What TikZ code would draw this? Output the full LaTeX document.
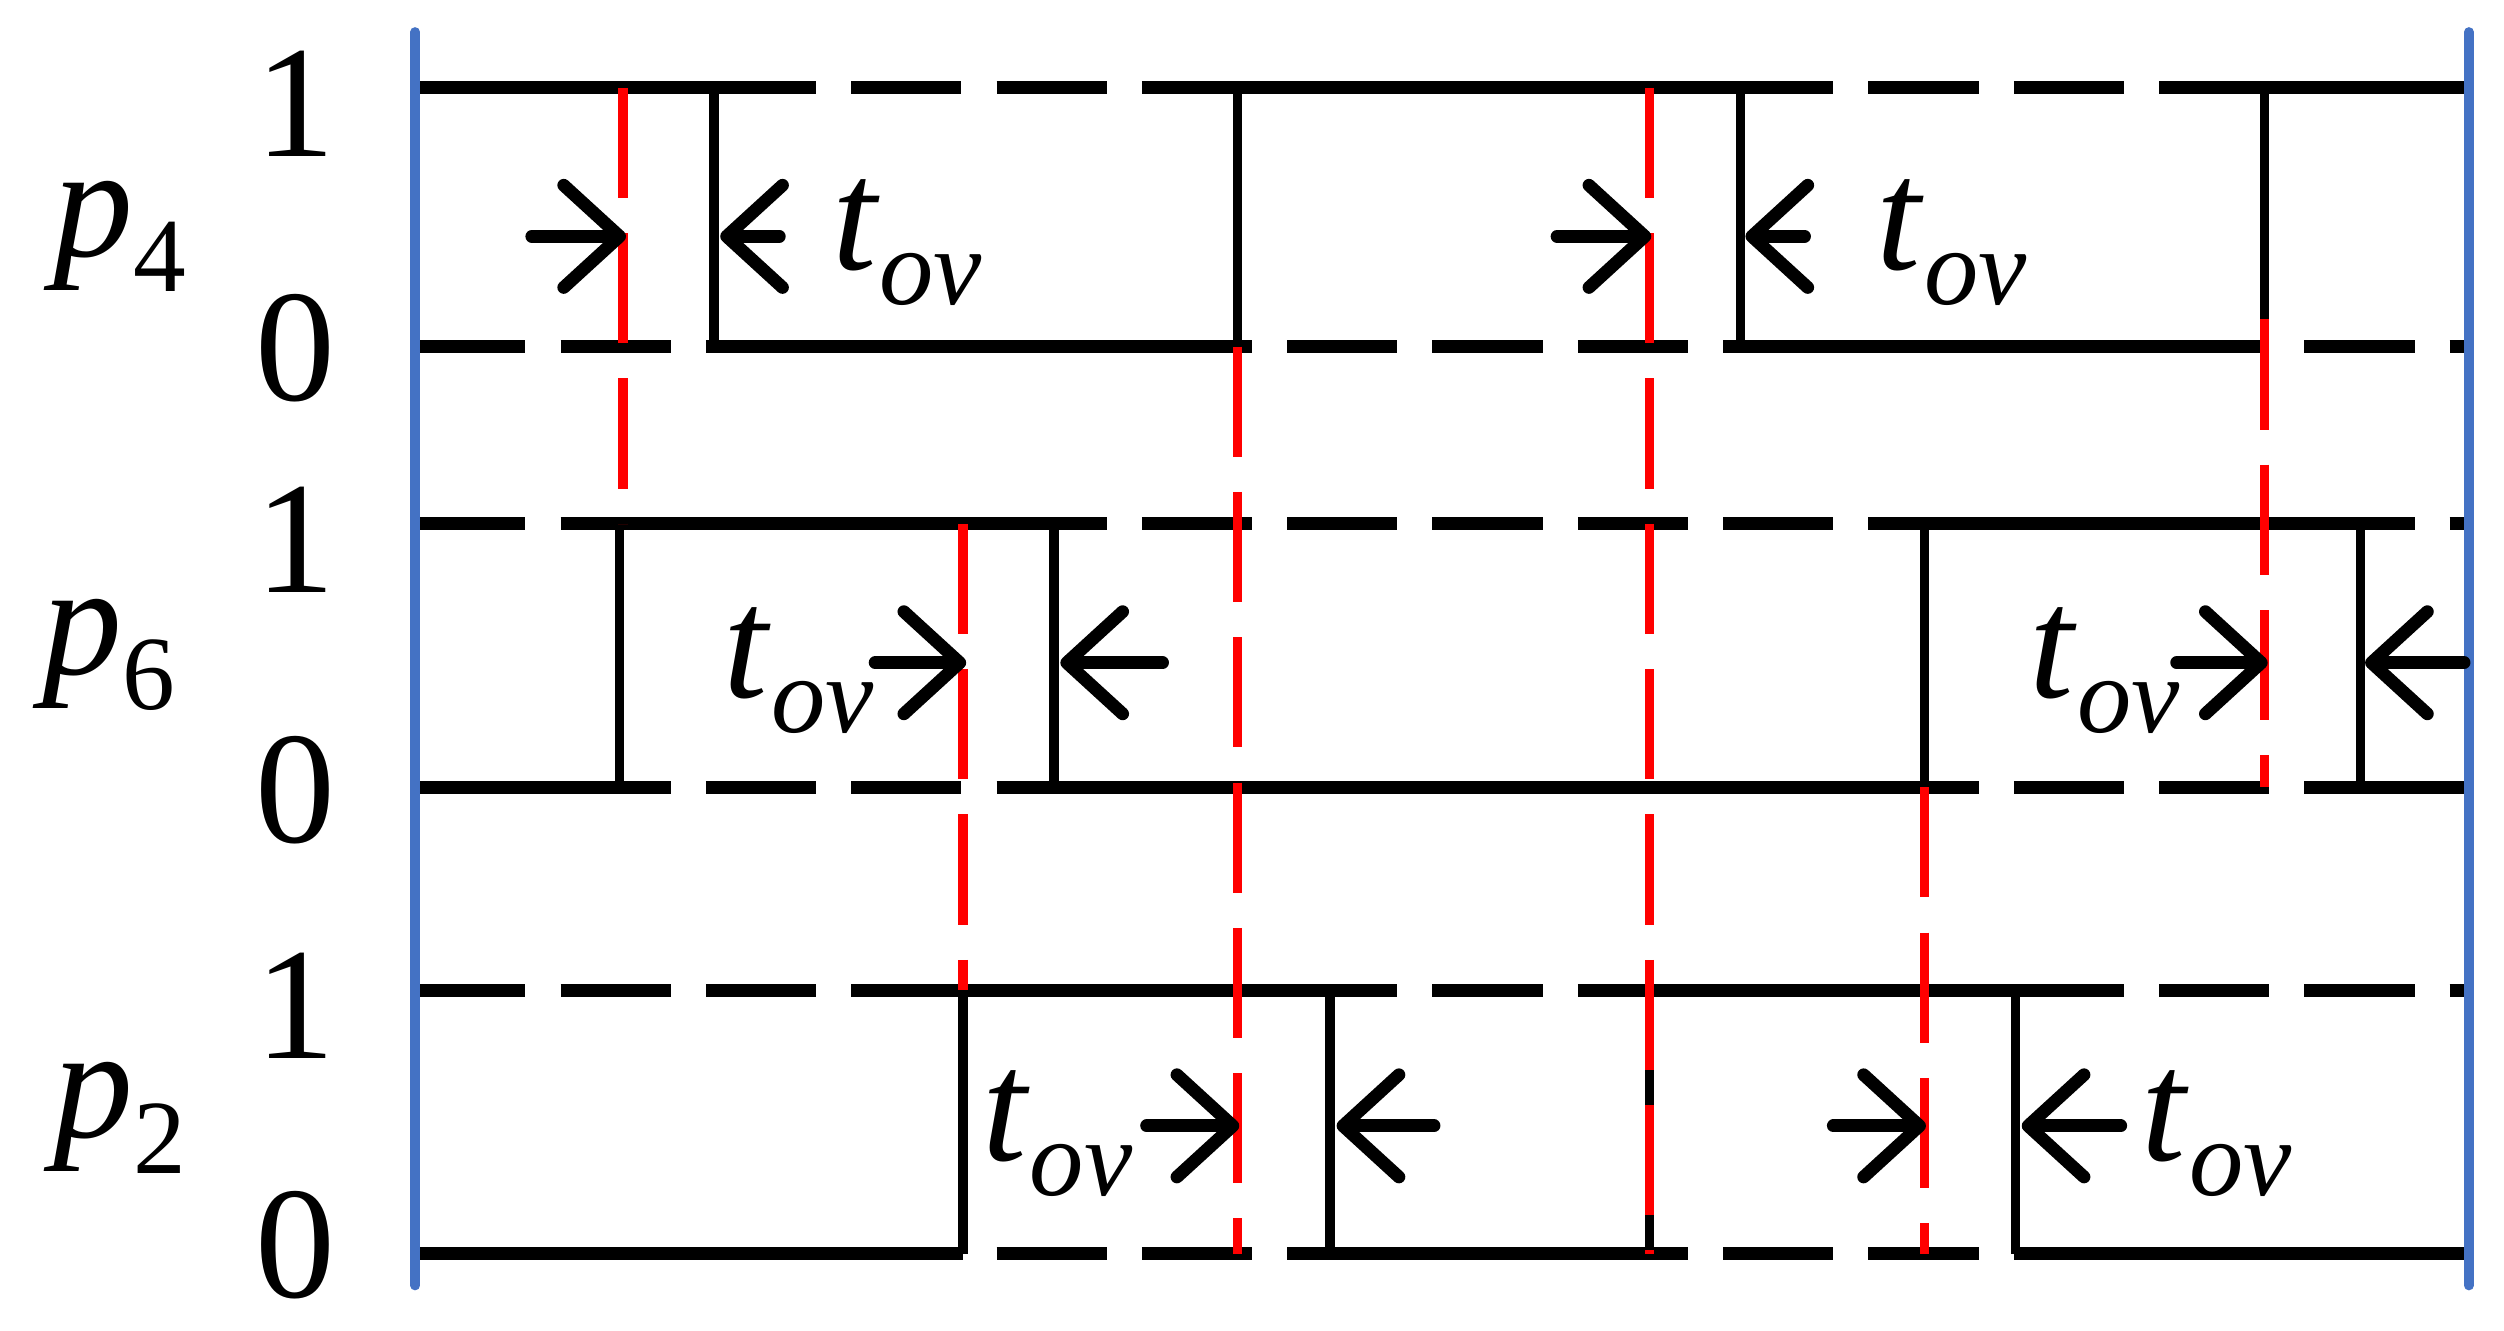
\documentclass[tikz,border=0pt]{standalone}
\usepackage{fontspec}
\setmainfont{Liberation Serif}
\usetikzlibrary{arrows.meta}
\newcommand{\tov}{\textit{t}\raisebox{-0.22em}{\fontsize{68}{68}\selectfont\textit{ov}}}
\newcommand{\plab}[1]{\textit{p}\raisebox{-0.22em}{\fontsize{66}{66}\selectfont #1}}
\definecolor{bordblue}{RGB}{68,114,196}
\begin{document}
\begin{tikzpicture}[x=1pt,y=-1pt,
  sig/.style={line width=8pt,black},
  dsig/.style={line width=8pt,black,dash pattern=on 69pt off 22pt},
  edge/.style={line width=6pt,black},
  redmark/.style={line width=6pt,draw=red,dash pattern=on 69pt off 22pt},
  bluebord/.style={line width=6pt,draw=bordblue,line cap=round},
  arr/.style={line width=8pt,line cap=round,-{Straight Barb[length=35pt,width=64pt,line width=8pt,round]}},
  lab/.style={font=\fontsize{100}{100}\selectfont,inner sep=0pt}]
\useasboundingbox (0,0) rectangle (1568,833);
% dashed base lines
\foreach \y in {55,217,328,493,620,785} \draw[dsig] (260,\y) -- (1546,\y);
% p4
\draw[sig] (260,55) -- (447,55); \draw[sig] (447,217) -- (775,217);
\draw[sig] (775,55) -- (1090,55); \draw[sig] (1090,217) -- (1418,217);
\draw[sig] (1418,55) -- (1546,55);
\foreach \x in {447,775,1090,1418} \draw[edge] (\x,55) -- (\x,217);
% p6
\draw[sig] (260,493) -- (388,493); \draw[sig] (388,328) -- (660,328);
\draw[sig] (660,493) -- (1205,493); \draw[sig] (1205,328) -- (1478,328);
\draw[sig] (1478,493) -- (1546,493);
\foreach \x in {388,660,1205,1478} \draw[edge] (\x,328) -- (\x,493);
% p2
\draw[sig] (260,785) -- (603,785); \draw[sig] (603,620) -- (833,620);
\draw[sig] (833,785) -- (1033,785); \draw[sig] (1033,620) -- (1262,620);
\draw[sig] (1262,785) -- (1546,785);
\foreach \x in {603,833,1033,1262} \draw[edge] (\x,620) -- (\x,785);
% red dashed markers
\draw[redmark] (390,55) -- (390,328);
\draw[redmark] (603,328) -- (603,620);
\draw[redmark] (775,217) -- (775,785);
\draw[redmark] (1033,55) -- (1033,785);
\draw[redmark] (1205,493) -- (1205,785);
\draw[redmark] (1418,200) -- (1418,493);
% blue borders
\draw[bluebord] (260,20) -- (260,805);
\draw[bluebord] (1546,20) -- (1546,805);
% arrows
\draw[arr] (333,148) -- (392,148); \draw[arr] (488,148) -- (451,148);
\draw[arr] (975,148) -- (1034,148); \draw[arr] (1130,148) -- (1093,148);
\draw[arr] (548,415) -- (605,415); \draw[arr] (728,415) -- (664,415);
\draw[arr] (1363,415) -- (1420,415); \draw[arr] (1543,415) -- (1481,415);
\draw[arr] (718,705) -- (776,705); \draw[arr] (898,705) -- (837,705);
\draw[arr] (1148,705) -- (1206,705); \draw[arr] (1328,705) -- (1266,705);
% labels
\node[lab] (tA) at (568,152) {\tov};
\node[lab] (tB) at (1222,152) {\tov};
\node[lab] (tC) at (500,420) {\tov};
\node[lab] (tD) at (1318,420) {\tov};
\node[lab] (tE) at (662,710) {\tov};
\node[lab] (tF) at (1388,710) {\tov};
\node[lab] (p4) at (75,148) {\plab{4}};
\node[lab] (p6) at (68,410) {\plab{6}};
\node[lab] (p2) at (75,700) {\plab{2}};
\node[lab] (a1) at (185,65) {1};
\node[lab] (a0) at (185,218) {0};
\node[lab] (b1) at (185,338) {1};
\node[lab] (b0) at (185,495) {0};
\node[lab] (c1) at (185,630) {1};
\node[lab] (c0) at (185,780) {0};
\end{tikzpicture}
\end{document}
